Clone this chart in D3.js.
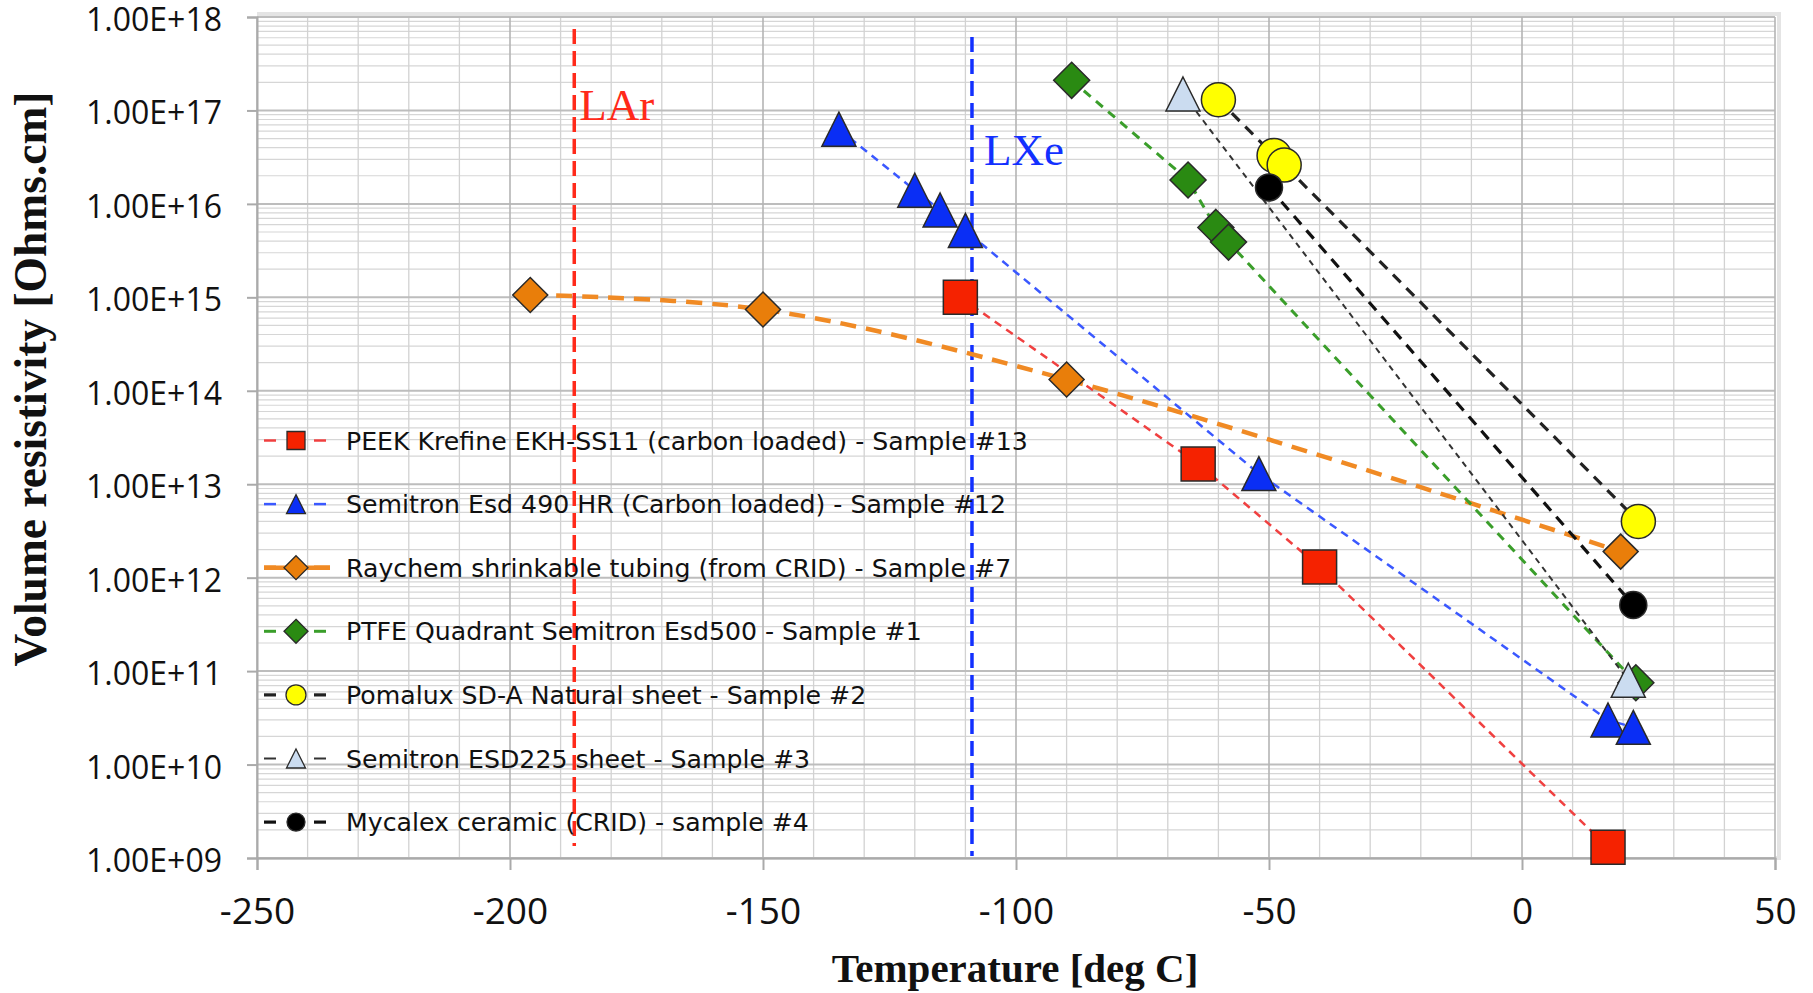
<!DOCTYPE html>
<html><head><meta charset="utf-8">
<script src="https://cdn.jsdelivr.net/npm/d3@7"></script>
<style>body{margin:0;background:#fff}</style>
</head><body>
<svg id="chart" width="1813" height="993"></svg>
<script>
// ---------- data ----------
const xTicks = [-250, -200, -150, -100, -50, 0, 50];
const yTicks = [1e9, 1e10, 1e11, 1e12, 1e13, 1e14, 1e15, 1e16, 1e17, 1e18];

const peekT = [-111, -64, -40, 17];
const peekR = [1.0e15, 1.65e13, 1.3e12, 1.3e9];

const esd490T = [-135, -120, -115, -110, -52, 17, 22];
const esd490R = [6.3e16, 1.4e16, 8.6e15, 5.2e15, 1.3e13, 3.0e10, 2.5e10];

const raychemT = [-196, -150, -90, 19.5];
const raychemR = [1.06e15, 7.4e14, 1.32e14, 1.9e12];

const ptfeT = [-89, -66, -60.5, -58, 22.5];
const ptfeR = [2.1e17, 1.8e16, 5.6e15, 3.9e15, 7.5e10];

const pomaluxT = [-60, -49, -47, 23];
const pomaluxR = [1.3e17, 3.3e16, 2.6e16, 4.0e12];

const esd225T = [-67, 21];
const esd225R = [1.5e17, 8.0e10];

const mycalexT = [-50, 22];
const mycalexR = [1.5e16, 5.1e11];

const seriesNames = [
  "PEEK Krefine EKH-SS11 (carbon loaded) - Sample #13",
  "Semitron Esd 490 HR (Carbon loaded) - Sample #12",
  "Raychem shrinkable tubing (from CRID) - Sample #7",
  "PTFE Quadrant Semitron Esd500 - Sample #1",
  "Pomalux SD-A Natural sheet - Sample #2",
  "Semitron ESD225 sheet - Sample #3",
  "Mycalex ceramic (CRID) - sample #4"
];

const refLabels = ["LAr", "LXe"];
const refTemps = [-187.3, -108.7];

// ---------- styles ----------
const styles = [
  {T: peekT, R: peekR, shape: "square", size: 34, lsize: 18, fill: "#f52200", line: "#f04040", lw: 2.5, dash: "8,6", curve: false},
  {T: esd490T, R: esd490R, shape: "triangle", size: 34, lsize: 19, fill: "#0a2ef5", line: "#3a58ff", lw: 2.5, dash: "8,6", curve: false},
  {T: raychemT, R: raychemR, shape: "diamond", size: 35, lsize: 24, fill: "#e97e0a", line: "#f08a24", lw: 4.5, dash: "16,10", curve: true},
  {T: ptfeT, R: ptfeR, shape: "diamond", size: 36, lsize: 24, fill: "#2a8a12", line: "#3a9e2a", lw: 3, dash: "9,7", curve: false},
  {T: pomaluxT, R: pomaluxR, shape: "circle", size: 34, lsize: 20, fill: "#ffff00", line: "#222", lw: 3.2, dash: "11,8", curve: false},
  {T: esd225T, R: esd225R, shape: "triangle", size: 34, lsize: 19, fill: "#cbdcf0", line: "#333", lw: 2, dash: "6,5", curve: false},
  {T: mycalexT, R: mycalexR, shape: "circle", size: 27, lsize: 18, fill: "#000", line: "#111", lw: 3.2, dash: "11,8", curve: false}
];
const refColors = ["#ff2a1a", "#1230ff"];

// ---------- layout ----------
const svg = d3.select("#chart");
const L = 257, R = 1775, T = 17, B = 858;
const x = d3.scaleLinear().domain([-250, 50]).range([L, R]);
const y = d3.scaleLog().domain([1e9, 1e18]).range([B, T]);

// plot frame shadow
svg.append("rect").attr("x", L + 2).attr("y", T - 3).attr("width", R - L + 2).attr("height", B - T + 3)
  .attr("fill", "none").attr("stroke", "#e4e4e4").attr("stroke-width", 4);
svg.append("rect").attr("x", L).attr("y", T).attr("width", R - L).attr("height", B - T).attr("fill", "#fff");

// gridlines
const g = svg.append("g");
const minorY = y.ticks(50).filter(v => !yTicks.some(t => Math.abs(t - v) / t < 1e-9));
g.selectAll(".hminor").data(minorY).join("line")
  .attr("x1", L).attr("x2", R).attr("y1", d => y(d)).attr("y2", d => y(d))
  .attr("stroke", "#d6d6d6").attr("stroke-width", 1.2);
const minorX = x.ticks(30).filter(v => !xTicks.includes(v));
g.selectAll(".vminor").data(minorX).join("line")
  .attr("y1", T).attr("y2", B).attr("x1", d => x(d)).attr("x2", d => x(d))
  .attr("stroke", "#d2d2d2").attr("stroke-width", 1.3);
g.selectAll(".hmajor").data(yTicks).join("line")
  .attr("x1", L).attr("x2", R).attr("y1", d => y(d)).attr("y2", d => y(d))
  .attr("stroke", "#bdbdbd").attr("stroke-width", 2);
g.selectAll(".vmajor").data(xTicks).join("line")
  .attr("y1", T).attr("y2", B).attr("x1", d => x(d)).attr("x2", d => x(d))
  .attr("stroke", "#b4b4b4").attr("stroke-width", 1.6);

// axes
const fmt = d => { const [m, e] = d.toExponential(2).split("e"); return m + "E" + e[0] + e.slice(1).padStart(2, "0"); };
const yAxis = svg.append("g").attr("transform", `translate(${L},0)`)
  .call(d3.axisLeft(y).tickValues(yTicks).tickFormat(fmt).tickSize(10).tickPadding(25));
yAxis.select(".domain").attr("stroke", "#aaa").attr("stroke-width", 2);
yAxis.selectAll(".tick line").attr("stroke", "#aaa").attr("stroke-width", 2);
yAxis.selectAll(".tick text").attr("font-family", "Open Sans").attr("font-size", 32).attr("fill", "#111")
  .attr("dy", "0.42em");

const xAxis = svg.append("g").attr("transform", `translate(0,${B})`)
  .call(d3.axisBottom(x).tickValues(xTicks).tickFormat(d => String(d)).tickSize(12).tickPadding(28));
xAxis.select(".domain").attr("stroke", "#aaa").attr("stroke-width", 2);
xAxis.selectAll(".tick line").attr("stroke", "#aaa").attr("stroke-width", 2);
xAxis.selectAll(".tick text").attr("font-family", "Open Sans").attr("font-size", 37).attr("fill", "#111");

// axis titles
svg.append("text").attr("x", 1015).attr("y", 982).attr("text-anchor", "middle")
  .attr("font-family", "Liberation Serif").attr("font-weight", "bold").attr("font-size", 41).attr("fill", "#111")
  .text("Temperature [deg C]");
svg.append("text").attr("transform", "translate(46,379) rotate(-90)").attr("text-anchor", "middle")
  .attr("font-family", "Liberation Serif").attr("font-weight", "bold").attr("font-size", 45.5).attr("fill", "#111")
  .text("Volume resistivity [Ohms.cm]");

// marker path generator
function markerPath(shape, s) {
  const h = s / 2;
  if (shape === "square") return `M${-h},${-h}H${h}V${h}H${-h}Z`;
  if (shape === "triangle") return `M0,${-h}L${h},${h}L${-h},${h}Z`;
  if (shape === "diamond") return `M0,${-h}L${h},0L0,${h}L${-h},0Z`;
  return d3.arc()({innerRadius: 0, outerRadius: h, startAngle: 0, endAngle: 2 * Math.PI});
}

// reference lines (LAr, LXe)
refTemps.forEach((t, i) => {
  svg.append("line").attr("x1", x(t)).attr("x2", x(t))
    .attr("y1", i === 0 ? 29 : 37).attr("y2", i === 0 ? 846 : 856)
    .attr("stroke", refColors[i]).attr("stroke-width", 3.5).attr("stroke-dasharray", "15,7");
  svg.append("text").attr("x", x(t) + (i === 0 ? 5 : 12)).attr("y", i === 0 ? 120 : 165)
    .attr("font-family", "Liberation Serif").attr("font-size", 45).attr("fill", refColors[i])
    .text(refLabels[i]);
});

// series
const lineGen = d3.line().x(d => x(d[0])).y(d => y(d[1]));
const smoothGen = d3.line().x(d => x(d[0])).y(d => y(d[1])).curve(d3.curveCatmullRom.alpha(0.5));
styles.forEach(s => {
  const pts = s.T.map((t, i) => [t, s.R[i]]);
  svg.append("path").attr("d", (s.curve ? smoothGen : lineGen)(pts))
    .attr("fill", "none").attr("stroke", s.line).attr("stroke-width", s.lw).attr("stroke-dasharray", s.dash);
  svg.append("g").selectAll("path").data(pts).join("path")
    .attr("transform", d => `translate(${x(d[0])},${y(d[1])})`)
    .attr("d", markerPath(s.shape, s.size))
    .attr("fill", s.fill).attr("stroke", "#2a2a2a").attr("stroke-width", 1.5);
});

// legend
const legY0 = 440.5, legStep = 63.6;
styles.forEach((s, i) => {
  const yy = legY0 + i * legStep;
  svg.append("line").attr("x1", 264).attr("x2", 276).attr("y1", yy).attr("y2", yy)
    .attr("stroke", s.line).attr("stroke-width", s.lw);
  svg.append("line").attr("x1", 314).attr("x2", s.curve ? 330 : 326).attr("y1", yy).attr("y2", yy)
    .attr("stroke", s.line).attr("stroke-width", s.lw);
  if (s.curve) svg.append("line").attr("x1", 264).attr("x2", 330).attr("y1", yy).attr("y2", yy)
    .attr("stroke", s.line).attr("stroke-width", s.lw);
  svg.append("path").attr("transform", `translate(296,${yy})`).attr("d", markerPath(s.shape, s.lsize))
    .attr("fill", s.fill).attr("stroke", "#2a2a2a").attr("stroke-width", 1.3);
  svg.append("text").attr("x", 346).attr("y", yy + 9).attr("font-family", "DejaVu Sans").attr("font-size", 25.2)
    .attr("fill", "#111").text(seriesNames[i]);
});
</script>
</body></html>
